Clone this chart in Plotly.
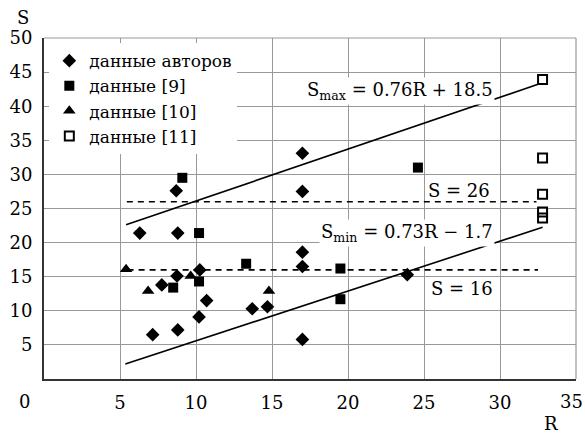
import plotly.graph_objects as go

FONT = "DejaVu Serif"
FS = 18

# данные авторов (diamonds)
auth_R = [6.3, 8.8, 8.7, 8.75, 7.75, 10.25, 10.7, 10.2, 7.15, 8.8, 13.7, 14.7, 17.0, 17.0, 17.0, 23.9, 17.0, 17.0]
auth_S = [21.4, 21.4, 27.6, 15.1, 13.8, 16.0, 11.5, 9.1, 6.5, 7.2, 10.3, 10.6, 18.6, 16.5, 5.8, 15.3, 33.1, 27.5]
# данные [9] (filled squares)
d9_R = [9.1, 10.2, 13.3, 8.5, 10.2, 19.5, 19.5, 24.6]
d9_S = [29.5, 21.4, 16.9, 13.4, 14.3, 16.2, 11.7, 31.0]
# данные [10] (triangles)
d10_R = [5.4, 6.85, 9.65, 14.8]
d10_S = [16.1, 12.9, 15.1, 12.9]
# данные [11] (open squares)
d11_R = [32.8, 32.8, 32.8, 32.8, 32.8]
d11_S = [43.9, 32.4, 27.1, 24.5, 23.6]

# fitted lines
smax_R = [5.4, 32.6]
smin_R = [5.35, 32.8]
s26_R = [5.45, 32.4]
s16_R = [5.5, 32.5]

x_ticks = [5, 10, 15, 20, 25, 30, 35]
x_labels = ["5", "10", "15", "20", "25", "30", ""]  # "35" drawn as annotation to keep it inside the page
y_ticks = [5, 10, 15, 20, 25, 30, 35, 40, 45, 50]

fig = go.Figure()

line_style = dict(color="black", width=1.6)
fig.add_trace(go.Scatter(x=smax_R, y=[0.76 * r + 18.5 for r in smax_R], mode="lines",
                         line=line_style, showlegend=False, hoverinfo="skip"))
fig.add_trace(go.Scatter(x=smin_R, y=[0.73 * r - 1.7 for r in smin_R], mode="lines",
                         line=line_style, showlegend=False, hoverinfo="skip"))
fig.add_trace(go.Scatter(x=s26_R, y=[26, 26], mode="lines",
                         line=dict(color="black", width=1.6, dash="6px,5px"), showlegend=False, hoverinfo="skip"))
fig.add_trace(go.Scatter(x=s16_R, y=[16, 16], mode="lines",
                         line=dict(color="black", width=1.6, dash="6px,5px"), showlegend=False, hoverinfo="skip"))

fig.add_trace(go.Scatter(x=auth_R, y=auth_S, mode="markers", name="данные авторов",
                         marker=dict(symbol="diamond", size=10.5, color="black")))
fig.add_trace(go.Scatter(x=d9_R, y=d9_S, mode="markers", name="данные [9]",
                         marker=dict(symbol="square", size=10, color="black")))
fig.add_trace(go.Scatter(x=d10_R, y=d10_S, mode="markers", name="данные [10]",
                         marker=dict(symbol="triangle-up", size=11, color="black")))
fig.add_trace(go.Scatter(x=d11_R, y=d11_S, mode="markers", name="данные [11]",
                         marker=dict(symbol="square-open", size=9, color="black", line=dict(width=2))))

ann_font = dict(family=FONT, size=FS, color="black")
annotations = [
    dict(x=23.4, y=42.3, text="S<sub>max</sub> = 0.76R + 18.5", showarrow=False, xanchor="center",
         yanchor="middle", bgcolor="white", font=ann_font),
    dict(x=27.3, y=27.7, text="S = 26", showarrow=False, xanchor="center", yanchor="middle", font=ann_font),
    dict(x=23.9, y=21.4, text="S<sub>min</sub> = 0.73R − 1.7", showarrow=False, xanchor="center",
         yanchor="middle", bgcolor="white", font=ann_font),
    dict(x=27.5, y=13.2, text="S = 16", showarrow=False, xanchor="center", yanchor="middle", font=ann_font),
    dict(x=-0.037, y=0, xref="paper", yref="y", text="0", showarrow=False, xanchor="center",
         yanchor="top", yshift=-10, font=ann_font),
    dict(x=35, y=0, xref="x", yref="y", text="35", showarrow=False, xanchor="right",
         yanchor="top", xshift=9, yshift=-10, font=ann_font),
    dict(x=-0.04, y=1.0, xref="paper", yref="paper", text="S", showarrow=False, xanchor="center",
         yanchor="bottom", yshift=8, font=ann_font),
    dict(x=0.953, y=0, xref="paper", yref="paper", text="R", showarrow=False, xanchor="center",
         yanchor="top", yshift=-32, font=ann_font),
]

fig.update_layout(
    width=585, height=434,
    margin=dict(l=44, r=9, t=38, b=55, autoexpand=False),
    paper_bgcolor="white", plot_bgcolor="white",
    font=dict(family=FONT, size=FS, color="black"),
    annotations=annotations,
    legend=dict(x=0.01, y=0.985, xanchor="left", yanchor="top", bgcolor="white",
                font=dict(family=FONT, size=17), tracegroupgap=0),
    shapes=[
        dict(type="line", xref="x domain", yref="y domain", x0=0, x1=1, y0=1, y1=1,
             line=dict(color="#999999", width=1.2)),
        dict(type="line", xref="x domain", yref="y domain", x0=1, x1=1, y0=0, y1=1,
             line=dict(color="#999999", width=1.2)),
    ],
)
fig.update_xaxes(range=[0, 35], tickvals=x_ticks, ticktext=x_labels,
                 showgrid=True, gridcolor="#999999", gridwidth=1,
                 automargin=False,
                 showline=True, linecolor="#333333", linewidth=2, ticks="", ticklabelstandoff=6,
                 zeroline=False, tickfont=dict(family=FONT, size=FS))
fig.update_yaxes(range=[0, 50], tickvals=y_ticks, ticktext=[str(v) for v in y_ticks],
                 showgrid=True, gridcolor="#999999", gridwidth=1, automargin=False,
                 showline=True, linecolor="#333333", linewidth=2, ticks="", ticklabelstandoff=6,
                 zeroline=False, tickfont=dict(family=FONT, size=FS))

fig.write_html("out.html", config={"displayModeBar": False},
               post_script="document.body.style.margin='0';document.body.style.padding='0';")
